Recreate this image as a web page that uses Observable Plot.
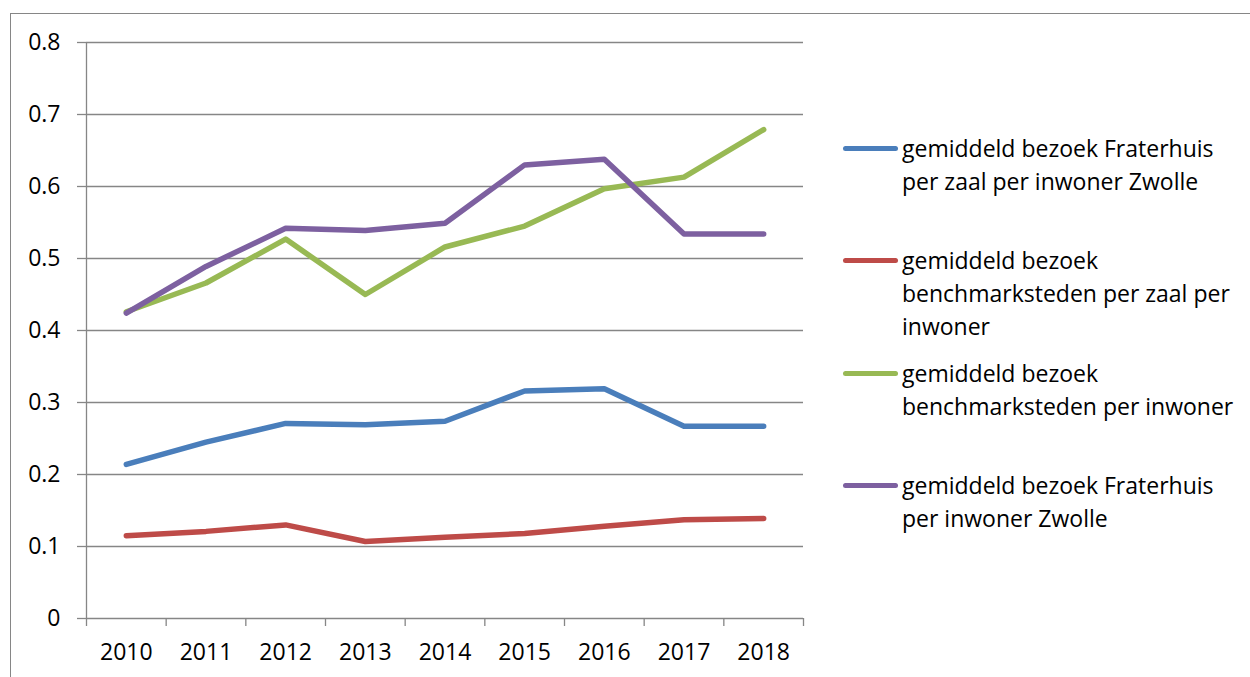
<!DOCTYPE html>
<html>
<head>
<meta charset="utf-8">
<script src="https://cdn.jsdelivr.net/npm/d3@7"></script>
<script src="https://cdn.jsdelivr.net/npm/@observablehq/plot@0.6"></script>
<style>
  body { margin: 0; background: #fff; }
  #wrap { position: relative; width: 1250px; height: 677px; overflow: hidden; font-family: "Open Sans", sans-serif; }
  #border { position: absolute; left: 10px; top: 13px; width: 1400px; height: 800px; border: 1.3px solid #868686; box-sizing: border-box; }
  #chart { position: absolute; left: 0; top: 0; }
  .item { position: absolute; left: 843px; font-size: 23px; line-height: 33px; color: #000; white-space: nowrap; }
  .sw { position: absolute; left: 0; width: 55px; height: 5px; border-radius: 3px; top: 14px; }
  .lbl { position: absolute; left: 59px; top: 0; }
</style>
</head>
<body>
<div id="wrap">
  <div id="border"></div>
  <div id="chart"></div>
  <div id="legend"></div>
</div>
<script>
const years = [2010, 2011, 2012, 2013, 2014, 2015, 2016, 2017, 2018];
const fraterhuisPerZaal = [0.214, 0.245, 0.271, 0.269, 0.274, 0.316, 0.319, 0.267, 0.267];
const benchPerZaal = [0.115, 0.121, 0.130, 0.107, 0.113, 0.118, 0.128, 0.137, 0.139];
const benchPerInwoner = [0.426, 0.466, 0.527, 0.450, 0.516, 0.545, 0.597, 0.613, 0.679];
const fraterhuisPerInwoner = [0.424, 0.489, 0.542, 0.539, 0.549, 0.630, 0.638, 0.534, 0.534];
const yTicks = [0, 0.1, 0.2, 0.3, 0.4, 0.5, 0.6, 0.7, 0.8];

const seriesNames = [
  "gemiddeld bezoek Fraterhuis per zaal per inwoner Zwolle",
  "gemiddeld bezoek benchmarksteden per zaal per inwoner",
  "gemiddeld bezoek benchmarksteden per inwoner",
  "gemiddeld bezoek Fraterhuis per inwoner Zwolle"
];
const legendLines = [
  ["gemiddeld bezoek Fraterhuis", "per zaal per inwoner Zwolle"],
  ["gemiddeld bezoek", "benchmarksteden per zaal per", "inwoner"],
  ["gemiddeld bezoek", "benchmarksteden per inwoner"],
  ["gemiddeld bezoek Fraterhuis", "per inwoner Zwolle"]
];
const seriesValues = [fraterhuisPerZaal, benchPerZaal, benchPerInwoner, fraterhuisPerInwoner];
const colors = ["#4A7EBB", "#BE4B48", "#98B954", "#7D60A0"];

const rows = [];
seriesValues.forEach((vals, i) => vals.forEach((v, j) => rows.push({series: seriesNames[i], year: years[j], value: v})));

const boundaries = d3.range(years[0] - 0.5, years[years.length - 1] + 1, 1);
const gray = "#868686";

const chart = Plot.plot({
  width: 1250,
  height: 677,
  marginLeft: 86,
  marginRight: 447,
  marginTop: 42,
  marginBottom: 59,
  style: {fontFamily: "Open Sans, sans-serif", fontSize: "23px", color: "#000", background: "transparent"},
  x: {type: "linear", domain: [boundaries[0], boundaries[boundaries.length - 1]]},
  y: {domain: [0, 0.8]},
  color: {domain: seriesNames, range: colors},
  marks: [
    Plot.gridY(yTicks, {stroke: gray, strokeOpacity: 1, strokeWidth: 1.3}),
    Plot.ruleX([boundaries[0]], {stroke: gray, strokeWidth: 1.3}),
    Plot.axisY({ticks: yTicks, tickSize: 9, tickPadding: 17, stroke: gray, strokeWidth: 1.3, tickFormat: d => String(+d.toFixed(1)), label: null, fill: "#000"}),
    Plot.axisX({ticks: boundaries, tickSize: 8, tickFormat: () => "", stroke: gray, strokeWidth: 1.3, label: null}),
    Plot.axisX({ticks: years, tickSize: 0, tickPadding: 25, tickFormat: d => String(d), label: null, fill: "#000"}),
    Plot.lineY(rows, {x: "year", y: "value", z: "series", stroke: "series", strokeWidth: 5.5, strokeLinecap: "round", strokeLinejoin: "round"})
  ]
});
document.getElementById("chart").appendChild(chart);

const legend = document.getElementById("legend");
const tops = [131.5, 243.5, 356.5, 469];
legendLines.forEach((lines, i) => {
  const item = document.createElement("div");
  item.className = "item";
  item.style.top = tops[i] + "px";
  const sw = document.createElement("div");
  sw.className = "sw";
  sw.style.background = colors[i];
  const lbl = document.createElement("div");
  lbl.className = "lbl";
  lbl.innerHTML = lines.join("<br>");
  item.appendChild(sw);
  item.appendChild(lbl);
  legend.appendChild(item);
});
</script>
</body>
</html>
